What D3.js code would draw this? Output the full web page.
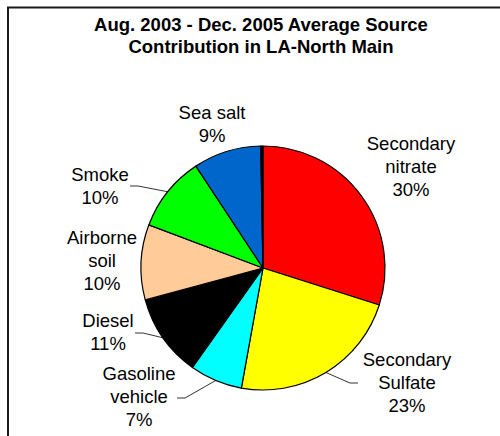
<!DOCTYPE html>
<html><head><meta charset="utf-8">
<script src="https://cdn.jsdelivr.net/npm/d3@7"></script>
<style>body{margin:0;background:#fff}svg{display:block}text{font-family:"Liberation Sans",Arial,sans-serif;fill:#000}</style>
</head><body>
<script>
const titleLines = ["Aug. 2003 - Dec. 2005 Average Source", "Contribution in LA-North Main"];
const categories = ["Secondary nitrate", "Secondary Sulfate", "Gasoline vehicle", "Diesel", "Airborne soil", "Smoke", "Sea salt", "Other"];
const values = [30, 23, 7, 11, 10, 10, 9, 0.3];
const percentLabels = ["30%", "23%", "7%", "11%", "10%", "10%", "9%", ""];
const labelLines = [["Secondary", "nitrate"], ["Secondary", "Sulfate"], ["Gasoline", "vehicle"], ["Diesel"], ["Airborne", "soil"], ["Smoke"], ["Sea salt"], []];
const colors = ["#FF0000", "#FFFF00", "#00FFFF", "#000000", "#FFCC99", "#00FF00", "#0066CC", "#000000"];

// layout (label block centers relative to pie center, leader line starts)
const labelPos = [[148, -101], [144, 115], [-124, 129], [-155, 64], [-161, -7], [-163, -82], [-51, -144], null];
const leaderStart = [null, [95, 115], [-86, 130], [-128, 65], null, [-133, -82], null, null];

const W = 500, H = 436, cx = 263, cy = 268, R = 122, fs = 18.5, lh = 23;
const svg = d3.select("body").append("svg").attr("width", W).attr("height", H);
svg.append("rect").attr("x", 8).attr("y", 7.5).attr("width", 520).attr("height", 450)
  .attr("fill", "#fff").attr("stroke", "#1a1a1a").attr("stroke-width", 2);

svg.selectAll("text.title").data(titleLines).join("text").attr("class", "title")
  .attr("x", 261).attr("y", (d, i) => 31 + i * 22).attr("text-anchor", "middle")
  .attr("font-weight", "bold").attr("font-size", fs).text(d => d);

const pie = d3.pie().sort(null).value(d => d)(values);
const arc = d3.arc().innerRadius(0).outerRadius(R);
const g = svg.append("g").attr("transform", `translate(${cx},${cy})`);
g.selectAll("path").data(pie).join("path").attr("d", arc)
  .attr("fill", (d, i) => colors[i]).attr("stroke", "#000").attr("stroke-width", 1.2).attr("stroke-linejoin", "round");

pie.forEach((d, i) => {
  if (!labelPos[i]) return;
  const lines = labelLines[i].concat([percentLabels[i]]);
  const [lx, ly] = labelPos[i];
  const y0 = ly - (lines.length - 1) * lh / 2 + fs * 0.35;
  g.append("text").attr("text-anchor", "middle").attr("font-size", fs)
    .selectAll("tspan").data(lines).join("tspan")
    .attr("x", lx).attr("y", (t, k) => y0 + k * lh).text(t => t);
  if (leaderStart[i]) {
    const a = (d.startAngle + d.endAngle) / 2;
    const px = R * Math.sin(a), py = -R * Math.cos(a);
    const [sx, sy] = leaderStart[i];
    const kx = sx + (px > sx ? 8 : -8);
    g.append("path").attr("d", d3.line()([[sx, sy], [kx, sy], [px, py]]))
      .attr("fill", "none").attr("stroke", "#000").attr("stroke-width", 0.8);
  }
});
</script>
</body></html>
